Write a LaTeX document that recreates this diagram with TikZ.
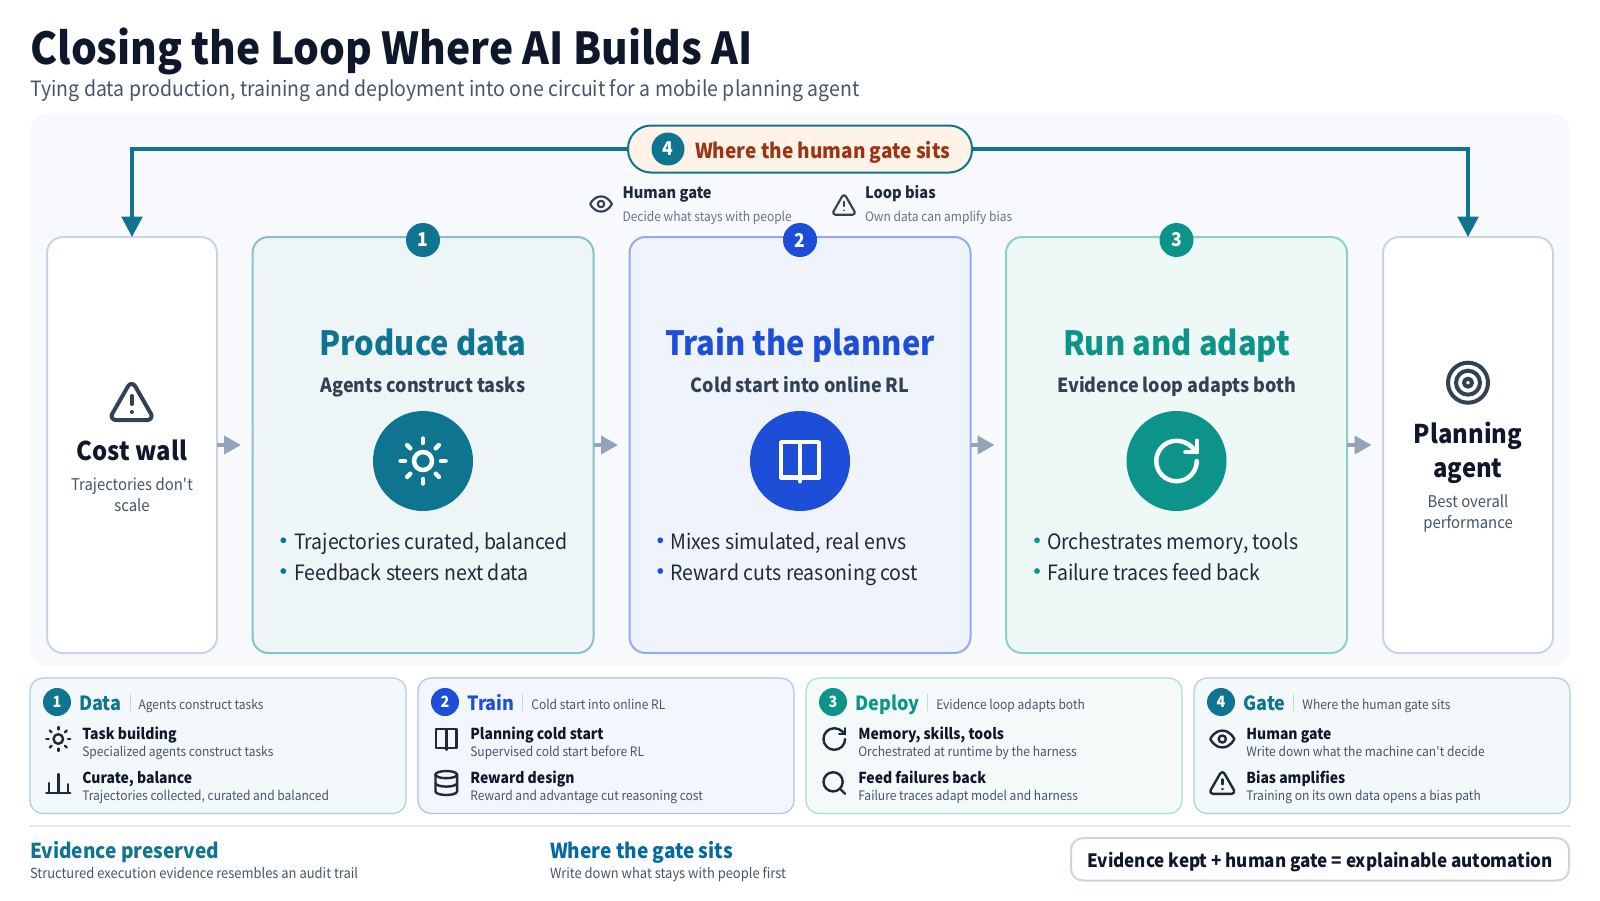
\documentclass[tikz,border=0pt]{standalone}
\usepackage{fontspec}
\usetikzlibrary{arrows.meta}
\setmainfont[FakeStretch=0.925]{Noto Sans CJK SC}
\definecolor{inkdark}{RGB}{15,23,42}
\definecolor{inkbody}{RGB}{30,41,59}
\definecolor{inkicon}{RGB}{51,65,85}
\definecolor{inkmid}{RGB}{71,85,105}
\definecolor{inksoft}{RGB}{100,116,139}
\definecolor{panelbg}{RGB}{247,249,252}
\definecolor{edgegray}{RGB}{203,213,225}
\definecolor{rulegray}{RGB}{226,232,240}
\definecolor{flowgray}{RGB}{148,163,184}
\definecolor{pillbg}{RGB}{255,243,232}
\definecolor{pillink}{RGB}{154,52,18}
\definecolor{linkblue}{RGB}{3,105,161}
\definecolor{stageA}{RGB}{14,116,144}
\definecolor{stageB}{RGB}{29,78,216}
\definecolor{stageC}{RGB}{13,148,136}
\definecolor{stageD}{RGB}{14,116,144}
\definecolor{fillA}{RGB}{237,245,247}
\definecolor{fillB}{RGB}{239,243,252}
\definecolor{fillC}{RGB}{238,248,246}
\definecolor{edgeA}{RGB}{141,190,203}
\definecolor{edgeB}{RGB}{148,170,236}
\definecolor{edgeC}{RGB}{141,208,198}
\definecolor{softA}{RGB}{243,249,250}
\definecolor{softB}{RGB}{243,246,254}
\definecolor{softC}{RGB}{243,250,249}
\definecolor{softD}{RGB}{243,249,250}
\definecolor{lineA}{RGB}{168,207,218}
\definecolor{lineB}{RGB}{174,192,240}
\definecolor{lineC}{RGB}{169,220,213}
\definecolor{lineD}{RGB}{168,207,218}
\newcommand{\fsz}[1]{\fontsize{#1}{#1}\selectfont}
\newcommand{\placeicon}[5]{%
  \begin{scope}[shift={(#1,#2)},x=#3pt,y=-#3pt,shift={(-12,-12)},color=#4,line width={2*#3 pt},line cap=round,line join=round]
    #5
  \end{scope}}
\newcommand{\iconSun}{%
  \draw (12,12) circle[radius=4];
  \foreach \ax/\ay/\bx/\by in {12/2/12/4, 12/20/12/22, 4.93/4.93/6.34/6.34, 17.66/17.66/19.07/19.07, 2/12/4/12, 20/12/22/12, 6.34/17.66/4.93/19.07, 19.07/4.93/17.66/6.34} {
    \draw (\ax,\ay) -- (\bx,\by);
  }}
\newcommand{\iconBars}{%
  \draw (2,20.5) -- (22,20.5);
  \draw (4,20.5) -- (4,12);
  \draw (12,20.5) -- (12,4.5);
  \draw (20,20.5) -- (20,13);}
\newcommand{\iconBook}{%
  \draw (3.65,3.65) rectangle (20.35,19.4);
  \draw (12,3.65) -- (12,21);}
\newcommand{\iconDisk}{%
  \draw (12,5) circle[x radius=9,y radius=3];
  \draw (3,5) -- (3,19) .. controls (3,20.66) and (7,22) .. (12,22) .. controls (17,22) and (21,20.66) .. (21,19) -- (21,5);
  \draw (3,12) .. controls (3,13.66) and (7,15) .. (12,15) .. controls (17,15) and (21,13.66) .. (21,12);}
\newcommand{\iconTurn}{%
  \draw (21,12) arc[start angle=0,end angle=270,radius=9] .. controls (14.52,3) and (16.93,4) .. (18.74,5.74) -- (21,8);
  \draw (21,3) -- (21,8) -- (16,8);}
\newcommand{\iconLens}{%
  \draw (11,11) circle[radius=8];
  \draw (21,21) -- (16.7,16.7);}
\newcommand{\iconEye}{%
  \draw (2,12) .. controls (2,12) and (5,5) .. (12,5) .. controls (19,5) and (22,12) .. (22,12) .. controls (22,12) and (19,19) .. (12,19) .. controls (5,19) and (2,12) .. (2,12) -- cycle;
  \draw (12,12) circle[radius=3];}
\newcommand{\iconWarn}{%
  \draw (21.73,18) -- (13.73,4) .. controls (12.96,2.65) and (11.04,2.65) .. (10.27,4) -- (2.27,18) .. controls (1.5,19.33) and (2.46,21) .. (4,21) -- (20,21) .. controls (21.54,21) and (22.5,19.33) .. (21.73,18) -- cycle;
  \draw (12,9) -- (12,13);
  \draw (12,17) -- (12,17.01);}
\newcommand{\iconGoal}{%
  \draw (12,12) circle[radius=10];
  \draw (12,12) circle[radius=6];
  \draw (12,12) circle[radius=2];}
\begin{document}
\begin{tikzpicture}[x=1pt,y=-1pt,
    txt/.style={inner sep=0pt,outer sep=0pt,anchor=base west},
    ctr/.style={inner sep=0pt,outer sep=0pt,anchor=base},
    bigcard/.style={draw,rectangle,rounded corners=16pt,line width=2pt,minimum height=416pt,inner sep=0pt,outer sep=0pt},
    legendcard/.style={draw,rectangle,rounded corners=13pt,line width=1.2pt,minimum width=376pt,minimum height=135.5pt,inner sep=0pt,outer sep=0pt},
    badge/.style={circle,minimum size=#1,inner sep=0pt,outer sep=0pt,text=white,font=\fsz{19}\bfseries},
    looparrow/.style={draw=stageA,line width=4pt,-{Triangle[length=20.5pt,width=20.5pt]}},
    flowarrow/.style={draw=flowgray,line width=4pt,-{Triangle[length=17pt,width=18pt]},shorten >=11.5pt},
  ]
  \useasboundingbox (0,0) rectangle (1600,900);
  \fill[white] (0,0) rectangle (1600,900);
  \node[txt,font=\fsz{44}\bfseries,text=inkdark] (maintitle) at (30.5,64) {Closing the Loop Where AI Builds AI};
  \node[txt,font=\fsz{21.05},text=inkmid] (subtitle) at (30.5,96.5) {Tying data production, training and deployment into one circuit for a mobile planning agent};
  \fill[panelbg,rounded corners=18pt] (30,113) rectangle (1570,666);

  \node[bigcard,draw=edgegray,fill=white,minimum width=170pt] (costwall) at (132,445) {};
  \node[bigcard,draw=edgegray,fill=white,minimum width=170pt] (agentcard) at (1468,445) {};
  \foreach \n/\num/\cx/\tit/\sub/\ic/\dotx/\textx/\lineone/\linetwo in {
    A/1/423/Produce data/Agents construct tasks/Sun/283.3/294/{Trajectories curated, balanced}/Feedback steers next data,
    B/2/800/Train the planner/Cold start into online RL/Book/660.3/670.3/{Mixes simulated, real envs}/Reward cuts reasoning cost,
    C/3/1176.5/Run and adapt/Evidence loop adapts both/Turn/1037/1047/{Orchestrates memory, tools}/Failure traces feed back} {
    \node[bigcard,draw=edge\n,fill=fill\n,minimum width=341pt] (card\n) at (\cx,445) {};
    \node[badge=34pt,fill=stage\n] (badge\n) at (\cx,240) {\num};
    \node[ctr,font=\fsz{33.4}\bfseries,text=stage\n] (head\n) at (\cx,355) {\tit};
    \node[ctr,font=\fsz{19.4}\bfseries,text=inkicon] (tag\n) at (\cx,392.7) {\sub};
    \fill[stage\n] (\cx,461) circle (50pt);
    \placeicon{\cx}{461}{2.25}{white}{\csname icon\ic\endcsname}
    \fill[stage\n] (\dotx,540.3) circle (2.9pt);
    \fill[stage\n] (\dotx,571) circle (2.9pt);
    \node[txt,font=\fsz{21.1},text=inkbody] (pointone\n) at (\textx,549.3) {\lineone};
    \node[txt,font=\fsz{21.1},text=inkbody] (pointtwo\n) at (\textx,580) {\linetwo};
  }

  \placeicon{131.6}{402}{2}{inkicon}{\iconWarn}
  \node[ctr,font=\fsz{25.8}\bfseries,text=inkdark] (walltitle) at (132,460.5) {Cost wall};
  \node[ctr,font=\fsz{16.1},text=inkmid] (wallone) at (132,490.5) {Trajectories don\textquotesingle t};
  \node[ctr,font=\fsz{16.1},text=inkmid] (walltwo) at (132,511.2) {scale};
  \placeicon{1468}{382.7}{2}{inkicon}{\iconGoal}
  \node[ctr,font=\fsz{25.8}\bfseries,text=inkdark] (agentone) at (1468,443) {Planning};
  \node[ctr,font=\fsz{25.8}\bfseries,text=inkdark] (agenttwo) at (1468,477.2) {agent};
  \node[ctr,font=\fsz{16.1},text=inkmid] (agentsubone) at (1468,507.4) {Best overall};
  \node[ctr,font=\fsz{16.1},text=inkmid] (agentsubtwo) at (1468,528.8) {performance};

  \node[draw=stageA,fill=pillbg,rectangle,rounded corners=23pt,line width=2pt,minimum width=344pt,minimum height=47pt,inner sep=0pt,outer sep=0pt] (gatepill) at (800,149) {};
  \node[badge=33pt,fill=stageA] (gatebadge) at (668,149) {4};
  \node[txt,font=\fsz{20.6}\bfseries,text=pillink] (gatelabel) at (695,158.8) {Where the human gate sits};
  \draw[looparrow] (gatepill.west) -| (costwall.north);
  \draw[looparrow] (gatepill.east) -| (agentcard.north);
  \placeicon{601}{204}{1.08}{inkicon}{\iconEye}
  \node[txt,font=\fsz{15.8}\bfseries,text=inkbody] (humanhead) at (622.5,198.3) {Human gate};
  \node[txt,font=\fsz{13},text=inksoft] (humansub) at (622.5,221.7) {Decide what stays with people};
  \placeicon{844}{205}{1.08}{inkicon}{\iconWarn}
  \node[txt,font=\fsz{15.8}\bfseries,text=inkbody] (biashead) at (865,198.3) {Loop bias};
  \node[txt,font=\fsz{13},text=inksoft] (biassub) at (865,221.7) {Own data can amplify bias};

  \draw[flowarrow] (costwall.east) -- (cardA.west);
  \draw[flowarrow] (cardA.east) -- (cardB.west);
  \draw[flowarrow] (cardB.east) -- (cardC.west);
  \draw[flowarrow] (cardC.east) -- (agentcard.west);

  \foreach \n/\num/\x/\tit/\tag/\icone/\tone/\sone/\ictwo/\ttwo/\stwo in {
    A/1/30/Data/Agents construct tasks/Sun/Task building/Specialized agents construct tasks/Bars/{Curate, balance}/{Trajectories collected, curated and balanced},
    B/2/418/Train/Cold start into online RL/Book/Planning cold start/Supervised cold start before RL/Disk/Reward design/Reward and advantage cut reasoning cost,
    C/3/806/Deploy/Evidence loop adapts both/Turn/{Memory, skills, tools}/Orchestrated at runtime by the harness/Lens/Feed failures back/Failure traces adapt model and harness,
    D/4/1194/Gate/Where the human gate sits/Eye/Human gate/Write down what the machine can\textquotesingle t decide/Warn/Bias amplifies/Training on its own data opens a bias path} {
    \node[legendcard,draw=line\n,fill=soft\n,anchor=north west] (legend\n) at (\x,678) {};
    \node[badge=28pt,fill=stage\n,font=\fsz{15.5}\bfseries] (legendbadge\n) at ({\x+27},702) {\num};
    \node[txt,font=\fsz{19.5}\bfseries,text=stage\n] (legendhead\n) at ({\x+49.3},710) {\tit};
    \path (legendhead\n.base east) ++(8.5,0) coordinate (legendsep\n);
    \draw[edgegray,line width=1pt] (legendsep\n) ++(0,-16) -- ++(0,17);
    \path (legendsep\n) ++(8.5,-1) node[txt,font=\fsz{13},text=inkmid] (legendtag\n) {\tag};
    \placeicon{\x+28.3}{739}{1.2}{inkbody}{\csname icon\icone\endcsname}
    \node[txt,font=\fsz{15.1}\bfseries,text=inkdark] (itemone\n) at ({\x+52.3},739.8) {\tone};
    \node[txt,font=\fsz{13},text=inkmid] (itemonesub\n) at ({\x+52.3},756.3) {\sone};
    \placeicon{\x+28.3}{783}{1.2}{inkbody}{\csname icon\ictwo\endcsname}
    \node[txt,font=\fsz{15.1}\bfseries,text=inkdark] (itemtwo\n) at ({\x+52.3},783.8) {\ttwo};
    \node[txt,font=\fsz{13},text=inkmid] (itemtwosub\n) at ({\x+52.3},800.3) {\stwo};
  }

  \draw[rulegray,line width=1.2pt] (30,826) -- (1570,826);
  \node[txt,font=\fsz{20.6}\bfseries,text=stageA] (keptfoot) at (30,858.7) {Evidence preserved};
  \node[txt,font=\fsz{14},text=inkmid] (keptsub) at (30,878.2) {Structured execution evidence resembles an audit trail};
  \node[txt,font=\fsz{20.6}\bfseries,text=linkblue] (gatefoot) at (550,858.7) {Where the gate sits};
  \node[txt,font=\fsz{14},text=inkmid] (gatesub) at (550,878.2) {Write down what stays with people first};
  \node[draw=edgegray,fill=white,rectangle,rounded corners=12pt,line width=2pt,minimum width=498pt,minimum height=42.5pt,inner sep=0pt,outer sep=0pt] (summarybox) at (1320,859.3) {};
  \node[ctr,font=\fsz{18.45}\bfseries,text=inkdark] (summarytext) at (1320,867.2) {Evidence kept + human gate = explainable automation};
\end{tikzpicture}
\end{document}
